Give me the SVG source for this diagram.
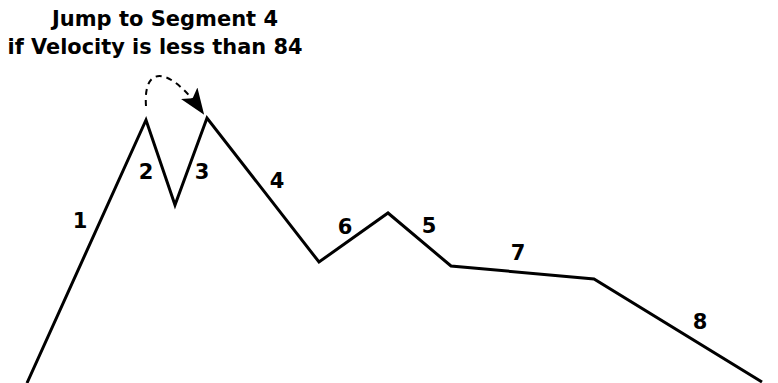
<svg xmlns="http://www.w3.org/2000/svg" width="778" height="383" viewBox="0 0 778 383">
<style>
text{font-family:"DejaVu Sans","Open Sans",sans-serif;font-weight:bold;fill:#000;text-anchor:middle}
.t{font-size:21px}
.n{font-size:21px}
.env{fill:none;stroke:#000;stroke-width:3;stroke-linejoin:miter}
.jump{fill:none;stroke:#000;stroke-width:2;stroke-dasharray:6,5}
</style>
<defs>
<marker id="ah2" markerWidth="26" markerHeight="26" refX="24" refY="13" orient="auto" markerUnits="userSpaceOnUse" viewBox="0 0 26 26">
<path d="M0,3 L26,13 L0,23 L6,13 Z" fill="#000"/>
</marker>
</defs>
<g id="title">
<text class="t" x="165" y="26" textLength="226" lengthAdjust="spacingAndGlyphs">Jump to Segment 4</text>
<text class="t" x="155" y="54" textLength="295" lengthAdjust="spacingAndGlyphs">if Velocity is less than 84</text>
</g>
<g id="connectors">
<polyline id="envelope" class="env" points="27,383 146,120 175,205 207,118 319,262 388,213 451,266 594,279 762,382"/>
<path id="jump-arrow" class="jump" d="M146,106 C143,64 170,66 203,113" marker-end="url(#ah2)"/>
</g>
<g id="seg1"><text class="n" x="80" y="228">1</text></g>
<g id="seg2"><text class="n" x="146" y="179">2</text></g>
<g id="seg3"><text class="n" x="202" y="179">3</text></g>
<g id="seg4"><text class="n" x="277" y="188">4</text></g>
<g id="seg6"><text class="n" x="345" y="234">6</text></g>
<g id="seg5"><text class="n" x="429" y="233">5</text></g>
<g id="seg7"><text class="n" x="518" y="260">7</text></g>
<g id="seg8"><text class="n" x="700" y="329">8</text></g>
</svg>
